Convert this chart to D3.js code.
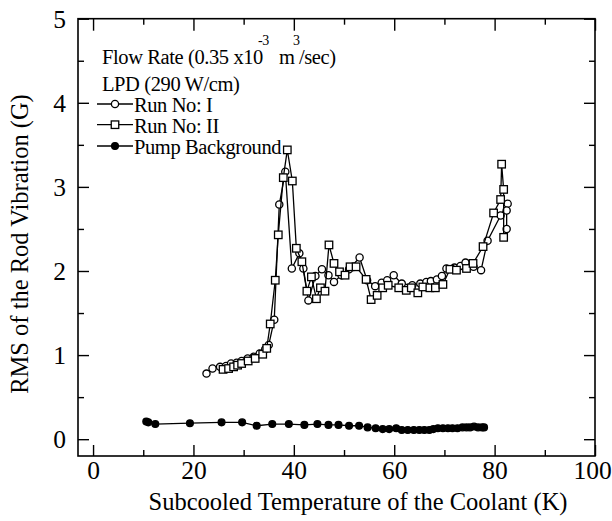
<!DOCTYPE html>
<html><head><meta charset="utf-8">
<script src="https://cdn.jsdelivr.net/npm/d3@7"></script>
<style>
body{margin:0;background:#fff}
text{font-family:"Liberation Serif","Times New Roman",serif;fill:#000}
</style>
</head><body>
<svg id="c" width="612" height="521"></svg>
<script>
// ---- data ----
const run1T = [22.6,23.8,25.3,26.5,27.5,28.6,29.6,30.8,32.0,33.2,34.3,35.0,36.1,37.1,38.3,39.6,41.1,41.9,42.9,44.3,45.6,46.9,48.0,49.5,51.0,53.1,54.6,56.2,57.5,58.6,59.9,61.5,63.6,65.2,66.4,67.3,68.5,69.5,70.4,72.0,73.2,74.2,75.8,77.3,78.6,81.2,82.6,82.4,82.4];
const run1V = [0.78,0.84,0.86,0.87,0.90,0.91,0.93,0.96,0.98,1.02,1.07,1.12,1.42,2.79,3.18,2.03,2.21,2.03,1.65,1.94,2.02,1.95,1.87,1.95,2.02,2.16,1.89,1.82,1.86,1.89,1.95,1.85,1.83,1.85,1.87,1.88,1.90,1.94,2.03,2.04,2.06,2.10,2.05,2.01,2.36,2.66,2.80,2.72,2.50];
const run2T = [25.9,27.0,28.0,28.8,29.6,30.9,32.3,33.8,34.6,35.3,36.3,36.9,37.9,38.7,39.7,40.5,41.6,42.6,43.5,44.5,45.3,46.2,47.0,48.0,49.1,50.2,51.2,52.4,54.4,55.4,56.6,57.7,58.8,60.9,62.4,63.4,64.7,65.7,67.1,68.2,69.7,71.1,72.4,74.4,75.7,77.7,79.8,81.2,81.4,81.8,81.8];
const run2V = [0.83,0.84,0.86,0.88,0.90,0.93,0.96,1.01,1.08,1.37,1.89,2.43,3.11,3.44,3.07,2.27,2.11,1.76,1.93,1.67,1.80,1.76,2.31,2.09,1.99,1.95,2.05,2.05,1.90,1.66,1.71,1.80,1.83,1.80,1.77,1.80,1.74,1.81,1.80,1.80,1.84,2.02,2.01,2.03,2.09,2.29,2.69,2.85,3.27,2.97,2.40];
const pumpT = [10.6,11.0,12.4,19.3,25.6,29.7,32.6,35.7,39.0,42.1,44.7,46.9,48.9,51.0,53.0,54.7,56.3,57.7,59.0,60.4,61.5,62.7,63.9,65.0,66.0,67.0,67.8,68.7,69.7,70.7,71.6,72.6,73.6,74.4,75.1,75.9,76.7,77.5,77.9];
const pumpV = [0.21,0.20,0.18,0.19,0.20,0.20,0.16,0.18,0.18,0.17,0.18,0.17,0.17,0.16,0.16,0.14,0.13,0.12,0.12,0.13,0.11,0.11,0.11,0.11,0.11,0.11,0.12,0.13,0.13,0.13,0.13,0.13,0.14,0.14,0.14,0.15,0.14,0.14,0.14];
const xMajor = [0,20,40,60,80,100];
const xMinor = [10,30,50,70,90];
const yMajor = [0,1,2,3,4,5];
const yMinor = [0.5,1.5,2.5,3.5,4.5];
const seriesNames = ["Run No: I","Run No: II","Pump Background"];
const xTitle = "Subcooled Temperature of the Coolant (K)";
const yTitle = "RMS of the Rod Vibration (G)";

// ---- layout ----
const L=78,R=595,T=18.7,B=456;
const svg=d3.select("#c");
const x=d3.scaleLinear().domain([-3,100]).range([L,R]);
const y=d3.scaleLinear().domain([-0.2,5]).range([B,T]);

svg.append("rect").attr("x",L).attr("y",T).attr("width",R-L).attr("height",B-T)
  .attr("fill","none").attr("stroke","#000").attr("stroke-width",1.6);

function styleAxis(g){g.select(".domain").remove();g.selectAll("line").attr("stroke","#000").attr("stroke-width",1.4);}
// bottom
const gb=svg.append("g").attr("transform",`translate(0,${B})`)
  .call(d3.axisBottom(x).tickValues(xMajor).tickSize(-11).tickFormat(d3.format("d")));
styleAxis(gb);
gb.selectAll("text").attr("y",23).attr("dy",0).attr("font-size",25.5)
  .attr("dx",d=>d===100?-3:0);
svg.append("g").attr("transform",`translate(0,${B})`)
  .call(d3.axisBottom(x).tickValues(xMinor).tickSize(-6).tickFormat("")).call(styleAxis);
// top
svg.append("g").attr("transform",`translate(0,${T})`)
  .call(d3.axisTop(x).tickValues(xMajor).tickSize(-12).tickFormat("")).call(styleAxis);
svg.append("g").attr("transform",`translate(0,${T})`)
  .call(d3.axisTop(x).tickValues(xMinor).tickSize(-6).tickFormat("")).call(styleAxis);
// left
const gl=svg.append("g").attr("transform",`translate(${L},0)`)
  .call(d3.axisLeft(y).tickValues(yMajor).tickSize(-11).tickFormat(d3.format("d")));
styleAxis(gl);
gl.selectAll("text").attr("x",-12).attr("dy","0.34em").attr("font-size",25.5);
svg.append("g").attr("transform",`translate(${L},0)`)
  .call(d3.axisLeft(y).tickValues(yMinor).tickSize(-6).tickFormat("")).call(styleAxis);
// right
svg.append("g").attr("transform",`translate(${R},0)`)
  .call(d3.axisRight(y).tickValues(yMajor).tickSize(-11).tickFormat("")).call(styleAxis);
svg.append("g").attr("transform",`translate(${R},0)`)
  .call(d3.axisRight(y).tickValues(yMinor).tickSize(-6).tickFormat("")).call(styleAxis);

// titles
svg.append("text").attr("transform",`translate(358,510)`)
  .attr("text-anchor","middle").attr("font-size",24.5).text(xTitle);
svg.append("text").attr("transform",`translate(28,244) rotate(-90)`)
  .attr("text-anchor","middle").attr("font-size",24.5).text(yTitle);

// data
const line=d3.line().x(d=>x(d[0])).y(d=>y(d[1]));
const d1=run1T.map((t,i)=>[t,run1V[i]]);
const d2=run2T.map((t,i)=>[t,run2V[i]]);
const d3p=pumpT.map((t,i)=>[t,pumpV[i]]);
const plot=svg.append("g");
function circles(g,data,r,fill){g.selectAll(null).data(data).join("circle")
  .attr("cx",d=>x(d[0])).attr("cy",d=>y(d[1])).attr("r",r)
  .attr("fill",fill).attr("stroke","#000").attr("stroke-width",1.3);}
function squares(g,data,s){g.selectAll(null).data(data).join("rect")
  .attr("x",d=>x(d[0])-s/2).attr("y",d=>y(d[1])-s/2).attr("width",s).attr("height",s)
  .attr("fill","#fff").attr("stroke","#000").attr("stroke-width",1.3);}
plot.append("path").attr("d",line(d1)).attr("fill","none").attr("stroke","#000").attr("stroke-width",1.3);
circles(plot.append("g"),d1,3.6,"#fff");
plot.append("path").attr("d",line(d2)).attr("fill","none").attr("stroke","#000").attr("stroke-width",1.3);
squares(plot.append("g"),d2,7.5);
plot.append("path").attr("d",line(d3p)).attr("fill","none").attr("stroke","#000").attr("stroke-width",1.3);
circles(plot.append("g"),d3p,3.4,"#000");

// legend / annotations
const lg=svg.append("g");
function ltext(tx,ty,str,fs){lg.append("text").attr("x",tx).attr("y",ty)
  .attr("font-size",fs).attr("letter-spacing",-0.4).text(str);}
ltext(102,64,"Flow Rate (0.35 x10",20.5);
ltext(258,45,"-3",14);
ltext(279,64,"m",20.5);
ltext(293,45,"3",14);
ltext(299,64,"/sec)",20.5);
ltext(102,90.5,"LPD (290 W/cm)",20.5);
const rows=[112,132.7,154];
rows.forEach((by,i)=>{
  const ly=by-8;
  lg.append("line").attr("x1",97).attr("x2",133).attr("y1",ly).attr("y2",ly)
    .attr("stroke","#000").attr("stroke-width",1.3);
  ltext(134,by,seriesNames[i],20.5);
});
lg.append("circle").attr("cx",115).attr("cy",rows[0]-8).attr("r",3.6).attr("fill","#fff").attr("stroke","#000").attr("stroke-width",1.3);
lg.append("rect").attr("x",115-3.75).attr("y",rows[1]-8-3.75).attr("width",7.5).attr("height",7.5).attr("fill","#fff").attr("stroke","#000").attr("stroke-width",1.3);
lg.append("circle").attr("cx",115).attr("cy",rows[2]-8).attr("r",3.4).attr("fill","#000").attr("stroke","#000").attr("stroke-width",1.3);
</script>
</body></html>
